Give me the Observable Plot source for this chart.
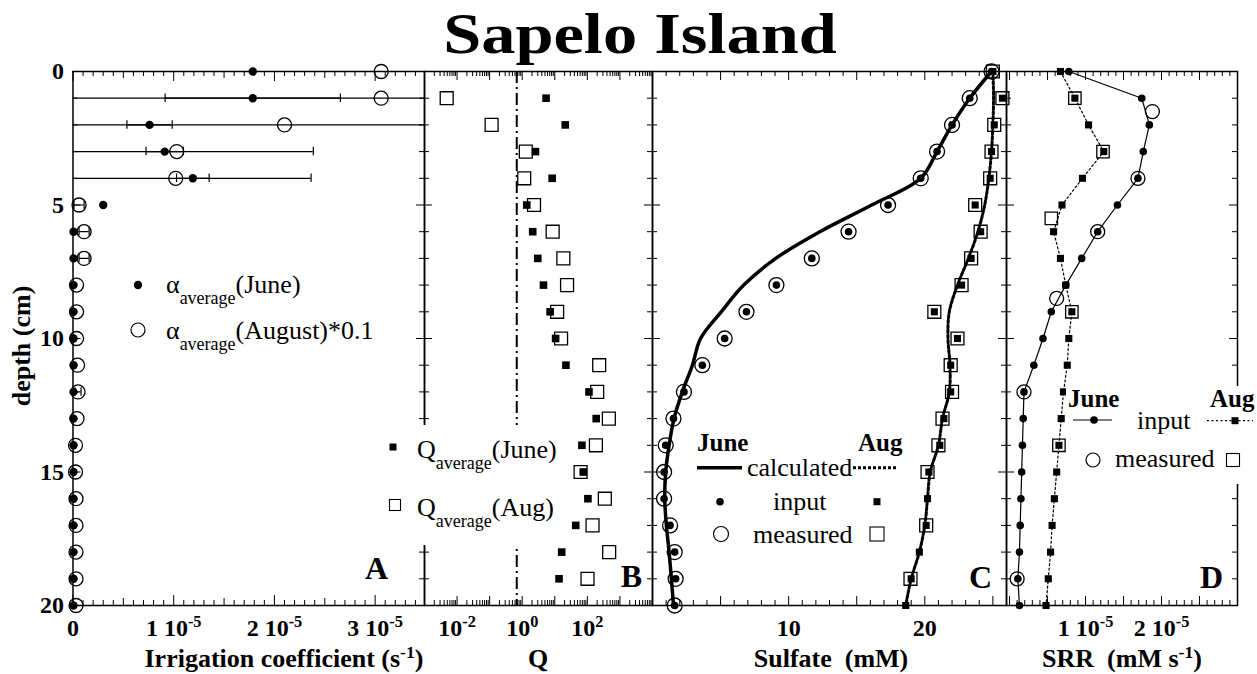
<!DOCTYPE html>
<html><head><meta charset="utf-8">
<script src="https://cdn.jsdelivr.net/npm/d3@7"></script>
<script src="https://cdn.jsdelivr.net/npm/@observablehq/plot@0.6"></script>
<style>
body{margin:0;background:#fff;}
#wrap{position:relative;width:1257px;height:674px;overflow:hidden;font-family:"Liberation Serif",Tinos,"Times New Roman",Times,"DejaVu Serif",serif;color:#000;background:#fff;}
.t{position:absolute;white-space:nowrap;}
</style></head><body><div id="wrap"></div>
<script>
// ---------------- data ----------------
const depth = [0,1,2,3,4,5,6,7,8,9,10,11,12,13,14,15,16,17,18,19,20];
const yTicks = [0,5,10,15,20];

// Panel A: irrigation coefficient (units of 1e-5 s^-1)
const alphaJune = [1.785,1.785,0.76,0.91,1.19,0.30,0.005,0.005,0.005,0.005,0.005,0.005,0.005,0.005,0.005,0.005,0.005,0.005,0.005,0.005,0.005];
const alphaAug01 = [3.06,3.06,2.10,1.03,1.02,0.06,0.11,0.11,0.035,0.035,0.035,0.045,0.05,0.04,0.025,0.025,0.03,0.03,0.03,0.03,0.03];
const errJuneDepth = [1,2,3,4];
const errJune = [0.87,0.225,0.185,0.162];
const errAugDepth = [1,2,3,4,5,6,7,12];
const errAug = [3.5,2.5,1.356,1.344,0.05,0.05,0.05,0.03];
const aTicks = [0,1,2,3];
const aTickLabels = ["0","1 10^-5","2 10^-5","3 10^-5"];

// Panel B: Q
const qDepth = [1,2,3,4,5,6,7,8,9,10,11,12,13,14,15,16,17,18,19];
const qJune = [5.4,21,2.55,8.3,1.38,2.1,3.0,4.5,7.2,10.6,22,112,187,68,75,104,44,16.3,13.5];
const qAug = [0.0048,0.115,1.29,1.15,2.3,8.6,18.3,23.8,11.8,15.6,231,200,457,183,62,344,144,467,101];
const qRef = [0.68];
const bTicks = [0.01,1,100];
const bTickLabels = ["10^-2","10^0","10^2"];

// Panel C: sulfate (mM)
const sulfJuneCalc = [24.9,23.3,22.0,20.9,19.7,16.1,12.3,9.05,6.7,5.05,3.53,2.93,2.19,1.58,1.22,0.97,0.90,1.02,1.22,1.39,1.54];
const sulfJune = [24.9,23.3,22.0,20.9,19.7,17.3,14.4,11.7,9.1,6.9,5.3,3.66,2.31,1.54,0.97,0.85,0.85,1.29,1.63,1.70,1.63];
const sulfAugCalc = [25.0,25.05,25.0,24.9,24.7,24.4,23.9,23.2,22.4,21.8,21.7,21.85,21.8,21.3,21.0,20.4,20.2,20.0,19.6,19.0,18.6];
const sulfAug = [25.0,25.7,25.1,24.9,24.8,23.7,24.1,23.4,22.7,20.7,22.4,21.9,21.9,21.4,21.1,20.3,20.2,20.1,19.6,19.0,18.6];
const sulfAugMeasDepth = [0,1,2,3,4,5,6,7,8,9,10,11,12,13,14,15,17,19];
const sulfAugMeas = [25.0,25.7,25.1,24.9,24.8,23.7,24.1,23.4,22.7,20.7,22.4,21.9,22.0,21.3,21.0,20.2,20.1,18.95];
const cTicks = [10,20];
const cTickLabels = ["10","20"];

// Panel D: SRR (units of 1e-5 mM s^-1)
const srrJune = [0.78,1.74,1.84,1.76,1.69,1.42,1.16,0.95,0.74,0.55,0.44,0.32,0.19,0.18,0.17,0.16,0.15,0.14,0.13,0.11,0.13];
const srrAug = [0.67,0.86,1.04,1.24,0.96,0.69,0.58,0.67,0.74,0.82,0.78,0.76,0.71,0.68,0.65,0.62,0.59,0.56,0.54,0.51,0.48];
const srrJuneMeasDepth = [1.5,4,6,8.5,12,19];
const srrJuneMeas = [1.88,1.69,1.16,0.62,0.19,0.10];
const srrAugMeasDepth = [1,3,5.5,9,14];
const srrAugMeas = [0.86,1.23,0.55,0.82,0.65];
const dTicks = [1,2];
const dTickLabels = ["1 10^-5","2 10^-5"];

// ---------------- layout ----------------
const wrap = document.getElementById("wrap");
const FONT = '"Liberation Serif",Tinos,"Times New Roman",Times,"DejaVu Serif",serif';
const TOP = 71, BOT = 605, IH = BOT - TOP, MT = 25, MB = 50;
const SVGNS = "http://www.w3.org/2000/svg";

function supify(root){
  root.querySelectorAll("text, tspan").forEach(n => {
    if (n.children.length) return;
    const t = n.textContent; const i = t.indexOf("^"); if (i < 0) return;
    n.textContent = t.slice(0, i);
    const s = document.createElementNS(SVGNS, "tspan");
    s.setAttribute("dy", "-0.5em"); s.setAttribute("font-size", "0.68em");
    s.textContent = t.slice(i + 1);
    n.appendChild(s);
  });
}

function xTickMarks(groups){
  return groups.flatMap(g => [
    Plot.ruleX(g.vals, {x: d => d, insetBottom: IH - g.len, strokeWidth: 1}),
    Plot.ruleX(g.vals, {x: d => d, insetTop: IH - g.len, strokeWidth: 1})
  ]);
}
function yTickMarks(innerW){
  const minor = depth.filter(d => d % 5 !== 0), major = depth.filter(d => d % 5 === 0);
  return [[minor,5],[major,8]].flatMap(([v,len]) => [
    Plot.ruleY(v, {y: d => d, insetRight: innerW - len, strokeWidth: 1}),
    Plot.ruleY(v, {y: d => d, insetLeft: innerW - len, strokeWidth: 1})
  ]);
}
function xAxis(ticks, labels){
  return Plot.axisX({anchor: "bottom", ticks, tickFormat: d => labels[ticks.indexOf(d)], tickSize: 0, tickPadding: 13,
    fontSize: 24, fontWeight: "bold", fontFamily: FONT, fill: "black", label: null});
}

function makePanel({left, right, mL = 20, mR = 20, x, marks, yAxis = false}){
  const w = right - left;
  const svg = Plot.plot({
    width: mL + w + mR, height: MT + IH + MB,
    marginLeft: mL, marginRight: mR, marginTop: MT, marginBottom: MB,
    x, y: yAxis ? {domain: [0,20], reverse: true} : {domain: [0,20], reverse: true, axis: null},
    style: {background: "transparent", overflow: "visible", fontFamily: FONT, color: "black"},
    marks: [
      ...marks,
      ...yTickMarks(w),
      Plot.frame({stroke: "black", strokeWidth: 1.5})
    ]
  });
  supify(svg);
  svg.style.position = "absolute";
  svg.style.left = (left - mL) + "px";
  svg.style.top = (TOP - MT) + "px";
  wrap.appendChild(svg);
}

// ---- Panel A
{
  const i10 = d3.range(0, 35);
  const errRows = [
    ...errJuneDepth.map((d,i) => ({d, v: alphaJune[depth.indexOf(d)], e: errJune[i]})),
    ...errAugDepth.map((d,i) => ({d, v: alphaAug01[depth.indexOf(d)], e: errAug[i]}))
  ];
  const caps = errRows.flatMap(r => [{d: r.d, x: r.v - r.e}, {d: r.d, x: r.v + r.e}]);
  makePanel({
    left: 72.5, right: 424, mL: 72.5, mR: 10, yAxis: true,
    x: {domain: [0, 3.49]},
    marks: [
      Plot.ruleY(errRows, {y: "d", x1: r => r.v - r.e, x2: r => r.v + r.e, strokeWidth: 1.2, clip: true}),
      Plot.ruleX(caps, {x: "x", y1: r => r.d - 0.16, y2: r => r.d + 0.16, strokeWidth: 1.2, clip: true}),
      Plot.dot(depth, {x: alphaAug01, y: depth, r: 7, stroke: "black", strokeWidth: 1.3, fill: "none"}),
      Plot.dot(depth, {x: alphaJune, y: depth, r: 4.2, fill: "black", stroke: "none"}),
      ...xTickMarks([
        {vals: i10.filter(i => i % 5).map(i => i/10), len: 5},
        {vals: i10.filter(i => i % 5 === 0 && i % 10).map(i => i/10), len: 7},
        {vals: i10.filter(i => i % 10 === 0).map(i => i/10), len: 10}
      ]),
      xAxis(aTicks, aTickLabels),
      Plot.axisY({anchor: "left", ticks: yTicks, tickSize: 0, tickPadding: 9, fontSize: 24, fontWeight: "bold", fontFamily: FONT, fill: "black", label: null})
    ]
  });
}
// ---- Panel B
{
  const minors = [], majors = [];
  for (let e = -3; e <= 4; e++) { majors.push(Math.pow(10, e)); if (e < 4) for (let m = 2; m <= 9; m++) minors.push(m * Math.pow(10, e)); }
  makePanel({
    left: 424, right: 652,
    x: {type: "log", domain: [1e-3, 1e4]},
    marks: [
      Plot.ruleX(qRef, {x: d => d, strokeWidth: 2, strokeDasharray: "12,4,2,4"}),
      Plot.dot(qDepth, {x: qAug, y: qDepth, symbol: "square", r: 7.3, stroke: "black", strokeWidth: 1.3, fill: "none"}),
      Plot.dot(qDepth, {x: qJune, y: qDepth, symbol: "square", r: 4.3, fill: "black", stroke: "none"}),
      ...xTickMarks([{vals: minors, len: 5}, {vals: majors, len: 9}]),
      xAxis(bTicks, bTickLabels)
    ]
  });
}
// ---- Panel C
{
  const iv = d3.range(0, 27);
  makePanel({
    left: 652, right: 1006,
    x: {domain: [0, 26]},
    marks: [
      Plot.line(depth, {x: sulfJuneCalc, y: depth, strokeWidth: 3.5, stroke: "black", curve: "catmull-rom"}),
      Plot.line(depth, {x: sulfAugCalc, y: depth, strokeWidth: 3, stroke: "black", strokeDasharray: "3,2", curve: "catmull-rom"}),
      Plot.dot(depth, {x: sulfJune, y: depth, r: 7.5, stroke: "black", strokeWidth: 1.3, fill: "none"}),
      Plot.dot(depth, {x: sulfJune, y: depth, r: 3.8, fill: "black", stroke: "none"}),
      Plot.dot(sulfAugMeasDepth, {x: sulfAugMeas, y: sulfAugMeasDepth, symbol: "square", r: 7.3, stroke: "black", strokeWidth: 1.3, fill: "none"}),
      Plot.dot(depth, {x: sulfAug, y: depth, symbol: "square", r: 4, fill: "black", stroke: "none"}),
      ...xTickMarks([{vals: iv.filter(i => i % 5), len: 5}, {vals: iv.filter(i => i % 5 === 0), len: 9}]),
      xAxis(cTicks, cTickLabels)
    ]
  });
}
// ---- Panel D
{
  const iv = d3.range(0, 31);
  makePanel({
    left: 1006, right: 1237,
    x: {domain: [-0.04, 3.0]},
    marks: [
      Plot.line(depth, {x: srrJune, y: depth, strokeWidth: 1.2, stroke: "black"}),
      Plot.line(depth, {x: srrAug, y: depth, strokeWidth: 1.2, stroke: "black", strokeDasharray: "2,2.5"}),
      Plot.dot(srrJuneMeasDepth, {x: srrJuneMeas, y: srrJuneMeasDepth, r: 7, stroke: "black", strokeWidth: 1.3, fill: "none"}),
      Plot.dot(srrAugMeasDepth, {x: srrAugMeas, y: srrAugMeasDepth, symbol: "square", r: 7, stroke: "black", strokeWidth: 1.3, fill: "none"}),
      Plot.dot(depth, {x: srrJune, y: depth, r: 3.8, fill: "black", stroke: "none"}),
      Plot.dot(depth, {x: srrAug, y: depth, symbol: "square", r: 4, fill: "black", stroke: "none"}),
      ...xTickMarks([{vals: iv.filter(i => i % 5).map(i => i/10), len: 5}, {vals: iv.filter(i => i % 5 === 0).map(i => i/10), len: 9}]),
      xAxis(dTicks, dTickLabels)
    ]
  });
}

// ---------------- text & legends ----------------
function box(x0, y0, x1, y1){
  const d = document.createElement("div");
  d.style.cssText = `position:absolute;left:${x0}px;top:${y0}px;width:${x1-x0}px;height:${y1-y0}px;background:#fff;`;
  wrap.appendChild(d);
}
function txt(x, base, html, size, {bold = false, anchor = "start", stretch = 1} = {}){
  const d = document.createElement("div");
  d.className = "t";
  d.innerHTML = html;
  const tx = (anchor === "middle" ? "translateX(-50%)" : anchor === "end" ? "translateX(-100%)" : "") + (stretch !== 1 ? ` scaleX(${stretch})` : "");
  d.style.cssText += `left:${x}px;top:${base - 0.8375*size}px;font-size:${size}px;line-height:${size}px;font-weight:${bold ? "bold" : "normal"};transform:${tx};font-family:${FONT};`;
  wrap.appendChild(d);
  return d;
}
const sub = s => `<span style="font-size:18px;vertical-align:-11px;line-height:0">${s}</span>`;
const sup = s => `<span style="font-size:0.68em;vertical-align:0.5em;line-height:0">${s}</span>`;

// white legend backgrounds
box(385, 425, 566, 545);
box(1066, 386, 1257, 484);

// legend symbols overlay
const ov = d3.select(wrap).append("svg").attr("width", 1257).attr("height", 674)
  .style("position", "absolute").style("left", "0px").style("top", "0px").style("overflow", "visible");
const dot = (cx, cy, r) => ov.append("circle").attr("cx", cx).attr("cy", cy).attr("r", r).attr("fill", "black");
const ring = (cx, cy, r) => ov.append("circle").attr("cx", cx).attr("cy", cy).attr("r", r).attr("fill", "none").attr("stroke", "black").attr("stroke-width", 1.2);
const sq = (cx, cy, s, filled) => ov.append("rect").attr("x", cx - s/2).attr("y", cy - s/2).attr("width", s).attr("height", s)
  .attr("fill", filled ? "black" : "none").attr("stroke", filled ? "none" : "black").attr("stroke-width", 1.1);
const seg = (x1, x2, y, w, dash) => ov.append("line").attr("x1", x1).attr("x2", x2).attr("y1", y).attr("y2", y)
  .attr("stroke", "black").attr("stroke-width", w).attr("stroke-dasharray", dash || null);

// Legend A
dot(138, 285, 4.2); ring(138, 330, 7);
txt(166, 294, `α${sub("average")}(June)`, 26);
txt(166, 340, `α${sub("average")}(August)*0.1`, 26);
// Legend B
sq(393, 447, 7, true); sq(395, 505, 11, false);
txt(417, 459, `Q${sub("average")}(June)`, 26);
txt(417, 517, `Q${sub("average")}(Aug)`, 26);
// Legend C
txt(697, 451, "June", 25, {bold: true});
txt(858, 451, "Aug", 25, {bold: true});
seg(697, 742, 467.7, 3.5); txt(747, 477, "calculated", 26); seg(853, 898, 467.7, 3, "3,2");
dot(720, 501.7, 3.8); txt(773, 511, "input", 26); sq(877, 501.7, 7, true);
ring(721, 534, 7.5); txt(753, 544, "measured", 26); sq(877, 534, 14, false);
// Legend D
txt(1068, 407, "June", 25, {bold: true});
txt(1210, 407, "Aug", 25, {bold: true});
seg(1073, 1112, 420, 1.2); dot(1094, 420, 3.8); txt(1137, 430, "input", 26);
seg(1207, 1253, 420.7, 1.2, "2,2.5"); sq(1235, 420.7, 7, true);
ring(1093, 460, 7); txt(1115, 468, "measured", 26); sq(1233, 460, 13, false);

// panel letters
txt(388, 579, "A", 32, {bold: true, anchor: "end"});
txt(642, 587, "B", 32, {bold: true, anchor: "end"});
txt(992, 588, "C", 32, {bold: true, anchor: "end"});
txt(1223, 588, "D", 32, {bold: true, anchor: "end"});

// axis titles
txt(284, 668, `Irrigation coefficient (s${sup("-1")})`, 26, {bold: true, anchor: "middle"});
txt(538, 668, "Q", 26, {bold: true, anchor: "middle"});
txt(831, 668, "Sulfate&nbsp; (mM)", 26, {bold: true, anchor: "middle"});
txt(1122, 668, `SRR&nbsp; (mM s${sup("-1")})`, 26, {bold: true, anchor: "middle"});

// y title
{
  const d = document.createElement("div");
  d.className = "t";
  d.textContent = "depth (cm)";
  d.style.cssText += `left:22px;top:346px;font-size:26px;line-height:26px;font-weight:bold;font-family:${FONT};transform:translate(-50%,-50%) rotate(-90deg);`;
  wrap.appendChild(d);
}
// title
txt(640, 54, "Sapelo Island", 58, {bold: true, anchor: "middle", stretch: 1.18});
</script></body></html>
